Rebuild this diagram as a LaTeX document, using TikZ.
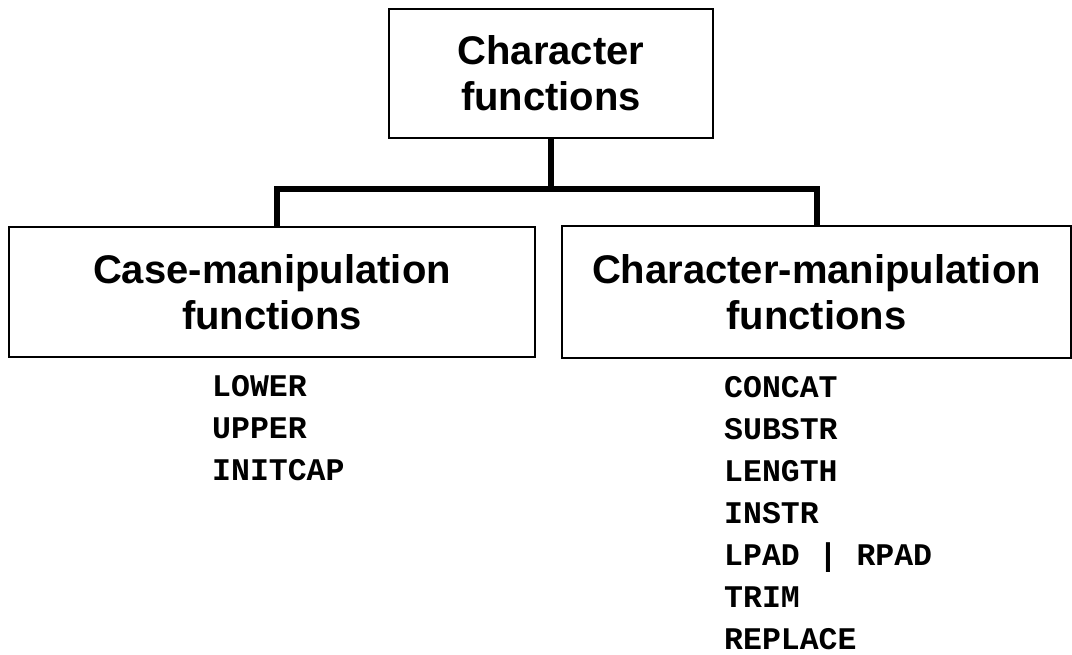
\documentclass[tikz,border=0pt]{standalone}
\usepackage{fontspec}
\setmainfont{Liberation Sans}
\newfontfamily\codefont{Liberation Mono}
\usetikzlibrary{calc}

\begin{document}
\begin{tikzpicture}[x=1pt,y=-1pt,
    groupbox/.style={draw, line width=1.5pt, align=center, inner sep=0pt,
      font=\fontsize{40}{46}\selectfont\bfseries},
    fname/.style={anchor=base west, inner sep=0pt,
      font=\fontsize{31.5}{36}\codefont\bfseries},
    link/.style={line width=6pt}]
    \useasboundingbox (0,0) rectangle (1072,654);

    \node[groupbox, minimum width=324pt, minimum height=129pt] (charfn) at (551,73.5) {Character\\functions};
    \node[groupbox, minimum width=526pt, minimum height=130pt] (casefn) at (272,292) {Case-manipulation\\functions};
    \node[groupbox, minimum width=509pt, minimum height=132pt] (manipfn) at (816.5,292) {Character-manipulation\\functions};

    \coordinate (split) at (551,189);
    \draw[link] (charfn.south) -- (split);
    \draw[link] ([xshift=5pt]casefn.north) |- (split) -| (manipfn.north);

    \node[fname] (lower) at (212,396) {LOWER};
    \node[fname] (upper) at (212,438) {UPPER};
    \node[fname] (initcap) at (212,480) {INITCAP};

    \node[fname] (concat) at (724,397) {CONCAT};
    \node[fname] (substr) at (724,439) {SUBSTR};
    \node[fname] (length) at (724,481) {LENGTH};
    \node[fname] (instr) at (724,523) {INSTR};
    \node[fname] (lpad) at (724,565) {LPAD | RPAD};
    \node[fname] (trim) at (724,607) {TRIM};
    \node[fname] (replace) at (724,649) {REPLACE};
\end{tikzpicture}
\end{document}
